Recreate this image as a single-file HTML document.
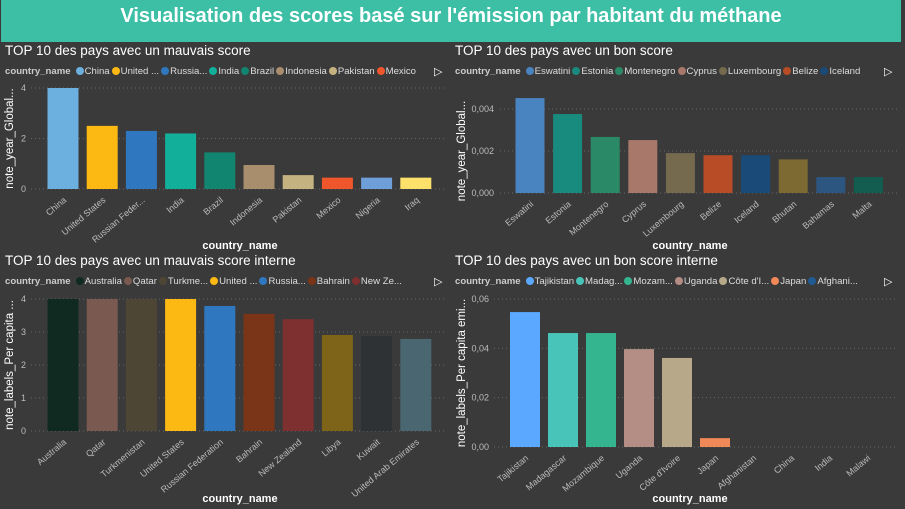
<!DOCTYPE html>
<html><head><meta charset="utf-8">
<style>
body{margin:0;width:905px;height:509px;background:#3a3a3a;overflow:hidden;font-family:"Liberation Sans",sans-serif;}
#hdr{position:absolute;left:1px;top:0;width:900px;height:42px;background:#3dbfa6;color:#fff;font-weight:bold;font-size:20px;text-align:center;line-height:32px;}
.ptitle{position:absolute;color:#fff;font-size:13.5px;}
.legend{position:absolute;font-size:9.6px;color:#ddd;white-space:nowrap;width:425px;overflow:hidden;}
.legend b{color:#ccc;margin-right:3px}
.legend span.d{display:inline-block;width:8px;height:8px;border-radius:50%;margin:0 1px 0 2px;vertical-align:-1px}
.arrow{position:absolute;color:#fff;font-size:11px}
svg{position:absolute;left:0;top:0}
</style></head><body>
<div id="hdr">Visualisation des scores basé sur l'émission par habitant du méthane</div>
<svg id="svg" width="905" height="509"></svg>
<script>
// Chart 1: mauvais score
const cats1=["China","United States","Russian Feder...","India","Brazil","Indonesia","Pakistan","Mexico","Nigeria","Iraq"];
const vals1=[4,2.5,2.3,2.2,1.45,0.95,0.55,0.45,0.45,0.45];
const ticks1=[0,2,4];
const tickLabels1=["0","2","4"];
const cols1=["#6cb0e0","#fdb913","#2f78c0","#12b09a","#128570","#a98e6d","#c5b281","#f0562b","#6f9fd8","#fde16a"];
const leg1=["China","United ...","Russia...","India","Brazil","Indonesia","Pakistan","Mexico"];
// Chart 2: bon score
const cats2=["Eswatini","Estonia","Montenegro","Cyprus","Luxembourg","Belize","Iceland","Bhutan","Bahamas","Malta"];
const vals2=[0.00452,0.00376,0.00267,0.00252,0.0019,0.0018,0.0018,0.0016,0.00076,0.00076];
const ticks2=[0,0.002,0.004];
const tickLabels2=["0,000","0,002","0,004"];
const cols2=["#4a84c0","#188a7e","#2a8a68","#a8786a","#766a4e","#b84c26","#1a4a78","#7d6a32","#2c5580","#125c50"];
const leg2=["Eswatini","Estonia","Montenegro","Cyprus","Luxembourg","Belize","Iceland"];
// Chart 3: mauvais score interne
const cats3=["Australia","Qatar","Turkmenistan","United States","Russian Federation","Bahrain","New Zealand","Libya","Kuwait","United Arab Emirates"];
const vals3=[4,4,4,4,3.79,3.55,3.39,2.91,2.88,2.79];
const ticks3=[0,1,2,3,4];
const tickLabels3=["0","1","2","3","4"];
const cols3=["#102a22","#7a5a50","#4e4634","#fdb913","#2f78c0","#7a3418","#7e3030","#7d6418","#2e3235","#4a6670"];
const leg3=["Australia","Qatar","Turkme...","United ...","Russia...","Bahrain","New Ze..."];
// Chart 4: bon score interne
const cats4=["Tajikistan","Madagascar","Mozambique","Uganda","Côte d'Ivoire","Japan","Afghanistan","China","India","Malawi"];
const vals4=[0.0547,0.0462,0.0462,0.0397,0.0361,0.0036,0,0,0,0];
const ticks4=[0,0.02,0.04,0.06];
const tickLabels4=["0,00","0,02","0,04","0,06"];
const cols4=["#5aa8ff","#48c4b8","#34b590","#b48e84","#b6a888","#f08858","#1f5a90","#6f9fd8","#888","#888"];
const leg4=["Tajikistan","Madag...","Mozam...","Uganda","Côte d'I...","Japan","Afghani..."];

const NS="http://www.w3.org/2000/svg";
const svg=document.getElementById('svg');
function mk(t,a,p){const e=document.createElementNS(NS,t);for(const k in a)e.setAttribute(k,a[k]);(p||svg).appendChild(e);return e;}

function chart(cfg){
  const {ox,oy,title,cats,vals,ticks,tl,cols,leg,yTitle,y0,y1,vmax,x0,step,bw,tickX,gridX0,gridX1,yTitleX,xTitleY}=cfg;
  const t=document.createElement('div');t.className='ptitle';t.style.left=(ox+5)+'px';t.style.top=(oy+3)+'px';t.textContent=title;
  
  
  document.body.appendChild(t);
  const l=document.createElement('div');l.className='legend';l.style.left=(ox+5)+'px';l.style.top=(oy+26)+'px';
  
  
  let h='<b>country_name</b>';
  leg.forEach((n,i)=>{h+='<span class="d" style="background:'+cols[i]+'"></span>'+n;});
  l.innerHTML=h;document.body.appendChild(l);
  const ar=document.createElement('div');ar.className='arrow';ar.style.left=(ox+434)+'px';ar.style.top=(oy+25)+'px';ar.textContent='▷';
  
  
  document.body.appendChild(ar);
  const ys=v=>y0-(v/vmax)*(y0-y1);
  const g=mk('g',{});
  
  
  ticks.forEach((v,i)=>{
    const gl=mk('line',{x1:gridX0,x2:gridX1,y1:ys(v),y2:ys(v),stroke:'#666','stroke-dasharray':'1 3'},g);
    
    
    const tx=mk('text',{x:tickX,y:ys(v)+3,'text-anchor':'end','font-size':'9','fill':'#bbb'},g);tx.textContent=tl[i];
    
    
  });
  cats.forEach((c,i)=>{
    const cx=x0+i*step;
    if(vals[i]>0){
      const r=mk('rect',{x:cx-bw/2,y:ys(vals[i]),width:bw,height:y0-ys(vals[i]),fill:cols[i]},g);
      
      
    }
    const tx=mk('text',{x:cx+4,y:y0+12,'text-anchor':'end','font-size':'9','fill':'#bbb',transform:'rotate(-40 '+(cx+4)+' '+(y0+12)+')'},g);tx.textContent=c;
    
    
  });
  const yt=mk('text',{x:yTitleX,y:(y0+y1)/2,'text-anchor':'middle','font-size':'11.5','fill':'#fff',transform:'rotate(-90 '+yTitleX+' '+((y0+y1)/2)+')'},g);yt.textContent=yTitle;
  
  
  const xt=mk('text',{x:ox+240,y:xTitleY,'text-anchor':'middle','font-size':'11','font-weight':'bold','fill':'#fff'},g);xt.textContent='country_name';
  
  
}
chart({ox:0,oy:40,title:"TOP 10 des pays avec un mauvais score",cats:cats1,vals:vals1,ticks:ticks1,tl:tickLabels1,cols:cols1,leg:leg1,yTitle:"note_year_Global...",y0:189,y1:88,vmax:4,x0:63,step:39.2,bw:31,tickX:26,gridX0:31,gridX1:447,yTitleX:13,xTitleY:249});
chart({ox:450,oy:40,title:"TOP 10 des pays avec un bon score",cats:cats2,vals:vals2,ticks:ticks2,tl:tickLabels2,cols:cols2,leg:leg2,yTitle:"note_year_Global...",y0:193,y1:109,vmax:0.004,x0:530,step:37.6,bw:29,tickX:494,gridX0:500,gridX1:897,yTitleX:465,xTitleY:249});
chart({ox:0,oy:250,title:"TOP 10 des pays avec un mauvais score interne",cats:cats3,vals:vals3,ticks:ticks3,tl:tickLabels3,cols:cols3,leg:leg3,yTitle:"note_labels_Per capita ...",y0:431,y1:299,vmax:4,x0:63,step:39.2,bw:31,tickX:26,gridX0:31,gridX1:447,yTitleX:13,xTitleY:502});
chart({ox:450,oy:250,title:"TOP 10 des pays avec un bon score interne",cats:cats4,vals:vals4,ticks:ticks4,tl:tickLabels4,cols:cols4,leg:leg4,yTitle:"note_labels_Per capita emi...",y0:447,y1:299,vmax:0.06,x0:525,step:38,bw:30,tickX:489,gridX0:494,gridX1:897,yTitleX:465,xTitleY:502});
</script>
</body></html>
